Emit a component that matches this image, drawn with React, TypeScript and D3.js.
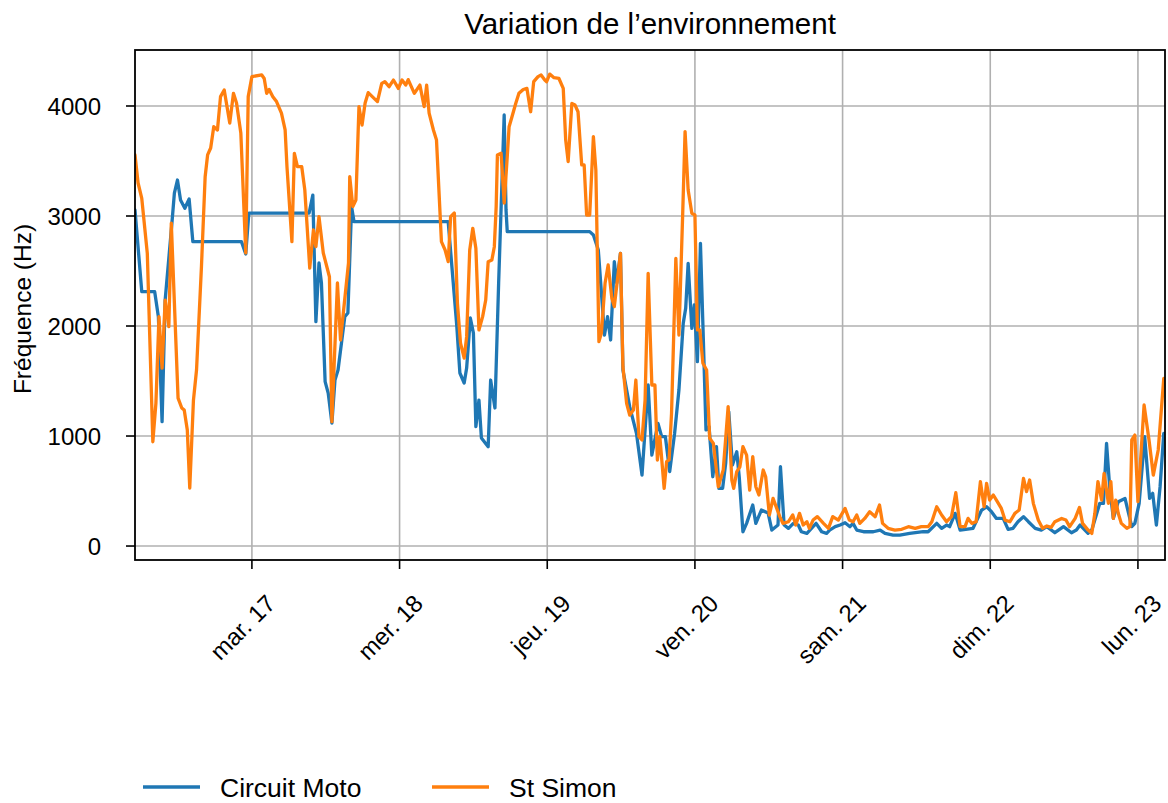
import { useEffect, useRef } from "react";
import * as d3 from "d3";

// heures depuis le lundi 16 mars 00:00
const motoHeures = [
  5.0, 6.1, 8.2, 8.8, 9.4, 9.9, 11.0, 11.4, 11.9, 12.4,
  13.1, 13.8, 14.4, 22.3, 23.0, 23.5, 33.3, 33.9, 34.4, 34.9,
  35.3, 35.9, 36.4, 37.0, 37.5, 38.0, 39.1, 39.6, 40.2, 40.6,
  55.9, 57.3, 57.8, 58.5, 58.9, 59.5, 60.0, 60.4, 60.9, 61.3,
  62.4, 62.8, 63.5, 64.1, 65.0, 65.3, 65.5, 78.9, 79.5, 80.3,
  81.3, 81.8, 82.3, 82.9, 83.3, 83.9, 84.3, 85.4, 86.5, 87.4,
  88.4, 89.0, 90.0, 90.6, 91.2, 91.9, 92.7, 93.4, 94.1, 94.5,
  94.9, 95.5, 95.9, 96.4, 96.9, 97.3, 97.8, 98.3, 98.9, 99.5,
  99.9, 100.5, 101.0, 101.5, 102.1, 102.8, 103.2, 103.8, 104.4, 105.4,
  105.9, 106.8, 107.9, 108.5, 109.5, 109.9, 110.5, 111.2, 112.0, 112.8,
  113.3, 114.2, 115.2, 115.7, 116.6, 117.4, 117.9, 118.8, 119.6, 120.4,
  121.2, 121.7, 122.3, 123.4, 125.0, 126.1, 126.9, 128.2, 129.3, 130.9,
  133.1, 133.9, 135.3, 136.1, 136.9, 137.4, 138.3, 139.1, 141.2, 142.6,
  143.4, 144.2, 145.0, 146.1, 146.9, 147.7, 148.5, 149.4, 150.2, 151.3,
  152.3, 153.2, 154.5, 155.9, 157.2, 158.0, 158.6, 159.9, 160.5, 161.8,
  162.4, 162.9, 163.4, 164.0, 164.8, 165.9, 167.0, 167.5, 168.2, 169.1,
  169.9, 170.4, 171.0, 171.6, 172.2,
];
const motoFreq = [
  3055, 2312, 2312, 2085, 1130, 2236, 2936, 3209, 3327, 3145,
  3070, 3154, 2767, 2767, 2655, 3027, 3027, 3190, 2039, 2573,
  2391, 1494, 1390, 1118, 1509, 1600, 2085, 2118, 3085, 2948,
  2948, 2000, 1573, 1482, 1618, 2073, 1936, 1085, 1327, 982,
  903, 1509, 1255, 2391, 3918, 3055, 2858, 2858, 2827, 2691,
  1918, 2085, 1873, 2585, 2391, 2661, 1600, 1267, 1024, 645,
  1464, 827, 1115, 994, 994, 676, 1024, 1418, 2024, 2161,
  2570, 1979, 2191, 1676, 2752, 2009, 1055, 1085, 630, 903,
  524, 524, 751, 1221, 736, 857, 630, 130, 206, 373,
  206, 327, 300, 145, 191, 721, 191, 161, 206, 191,
  130, 115, 176, 206, 130, 115, 145, 176, 191, 212,
  176, 206, 145, 130, 130, 145, 115, 100, 100, 115,
  130, 130, 206, 161, 191, 176, 297, 145, 161, 327,
  357, 312, 251, 251, 152, 161, 221, 267, 221, 161,
  145, 176, 121, 176, 121, 145, 191, 115, 145, 388,
  388, 933, 539, 251, 403, 433, 176, 206, 388, 994,
  433, 479, 191, 539, 1024,
];

const simonHeures = [
  5.0, 5.5, 6.1, 7.0, 7.9, 8.4, 8.9, 9.4, 9.9, 10.5,
  10.9, 12.0, 12.6, 13.0, 13.5, 13.9, 14.5, 15.0, 15.8, 16.4,
  16.8, 17.3, 17.8, 18.4, 18.9, 19.5, 20.4, 21.0, 21.5, 22.2,
  23.0, 23.4, 24.0, 25.6, 26.0, 26.4, 26.8, 27.4, 28.0, 28.8,
  29.4, 29.7, 30.5, 30.9, 31.4, 32.1, 32.6, 33.4, 34.0, 34.4,
  34.9, 35.6, 36.6, 37.0, 37.9, 38.4, 39.7, 39.9, 40.4, 40.9,
  41.4, 41.9, 42.4, 42.9, 44.4, 45.1, 45.6, 46.3, 47.0, 47.8,
  48.4, 49.0, 49.4, 50.4, 51.3, 52.0, 52.4, 52.8, 53.5, 54.0,
  54.8, 55.4, 55.9, 56.3, 56.9, 57.4, 57.9, 58.5, 58.9, 59.4,
  59.9, 60.4, 60.9, 61.5, 62.0, 62.4, 63.0, 63.4, 63.7, 63.9,
  64.5, 65.0, 65.5, 65.8, 66.2, 66.9, 67.4, 68.1, 68.7, 69.3,
  69.8, 70.5, 71.0, 71.6, 71.9, 72.4, 73.1, 73.9, 74.6, 75.0,
  75.4, 76.0, 76.5, 77.0, 77.6, 78.0, 78.4, 78.9, 79.5, 79.9,
  80.4, 80.8, 81.4, 81.9, 82.5, 82.9, 83.4, 83.9, 84.3, 84.9,
  85.4, 86.0, 86.4, 86.9, 87.4, 87.9, 88.4, 89.0, 89.5, 89.9,
  90.3, 91.0, 91.4, 91.8, 92.2, 92.9, 93.4, 94.0, 94.4, 94.9,
  95.5, 96.0, 96.4, 96.8, 97.3, 97.9, 98.4, 99.0, 99.8, 100.6,
  101.4, 102.0, 102.3, 102.8, 103.3, 103.8, 104.4, 104.9, 105.4, 105.9,
  106.4, 107.1, 107.5, 108.1, 108.7, 109.3, 109.8, 110.3, 111.2, 111.9,
  112.4, 113.0, 113.6, 114.2, 114.6, 115.2, 115.9, 116.9, 117.7, 118.4,
  119.3, 120.4, 121.1, 121.7, 122.3, 122.8, 123.6, 124.4, 125.3, 126.0,
  126.5, 127.4, 128.5, 129.6, 130.7, 131.8, 132.8, 133.9, 134.5, 135.3,
  136.1, 136.9, 137.7, 138.4, 139.1, 139.9, 140.4, 141.0, 141.7, 142.4,
  143.0, 143.4, 143.9, 144.5, 145.0, 145.8, 146.4, 147.2, 148.0, 148.7,
  149.4, 149.9, 150.4, 151.0, 151.8, 152.5, 153.2, 153.9, 154.5, 155.6,
  156.3, 156.9, 157.8, 158.5, 159.0, 159.9, 160.5, 161.0, 161.5, 162.1,
  162.5, 163.2, 163.6, 164.0, 164.4, 164.8, 165.3, 166.2, 166.7, 167.0,
  167.5, 168.0, 169.0, 169.8, 170.5, 171.3, 172.2,
];
const simonFreq = [
  3555, 3300, 3160, 2660, 948, 1300, 2085, 1618, 2236, 1994,
  2936, 1345, 1255, 1236, 1055, 527, 1327, 1600, 2540, 3357,
  3555, 3618, 3812, 3782, 4085, 4145, 3845, 4115, 4027, 3755,
  2664, 4085, 4267, 4282, 4250, 4115, 4150, 4085, 4040, 3936,
  3782, 3448, 2767, 3570, 3448, 3448, 3236, 2527, 2873, 2721,
  2994, 2664, 2448, 1130, 2391, 1873, 2573, 3357, 3085, 3145,
  3994, 3827, 4027, 4121, 4040, 4206, 4221, 4176, 4236, 4160,
  4236, 4190, 4240, 4115, 4190, 3994, 4190, 3936, 3782, 3690,
  2767, 2691, 2585, 2994, 3027, 2209, 1845, 1709, 1903, 2691,
  2888, 2706, 1964, 2085, 2236, 2585, 2600, 2721, 3085, 3555,
  3570, 3118, 3539, 3812, 3888, 4027, 4115, 4150, 4160, 3948,
  4221, 4267, 4282, 4236, 4221, 4290, 4257, 4250, 4160, 3690,
  3494, 4024, 4010, 3948, 3464, 3464, 3009, 3009, 3721, 3418,
  1858, 1936, 2391, 2555, 2252, 2176, 2418, 2661, 1630, 1297,
  1190, 1236, 1509, 994, 964, 1327, 2479, 1464, 1464, 782,
  994, 524, 767, 782, 1206, 2615, 1918, 2994, 3767, 3236,
  3024, 3009, 1964, 1964, 1661, 1600, 979, 933, 539, 691,
  1267, 600, 524, 676, 718, 903, 827, 509, 812, 539,
  464, 691, 630, 282, 433, 342, 267, 206, 221, 282,
  191, 297, 191, 221, 161, 236, 267, 206, 161, 267,
  236, 342, 236, 221, 282, 206, 251, 312, 267, 373,
  206, 161, 145, 152, 176, 161, 176, 176, 221, 357,
  282, 221, 267, 485, 176, 176, 251, 206, 221, 585,
  357, 570, 418, 464, 418, 342, 236, 221, 297, 327,
  615, 494, 600, 388, 236, 161, 182, 170, 221, 251,
  236, 176, 251, 351, 206, 145, 115, 297, 585, 418,
  661, 388, 585, 251, 418, 297, 206, 161, 176, 964,
  1009, 403, 1282, 964, 645, 873, 1524,
];

const joursLabels = ["mar. 17", "mer. 18", "jeu. 19", "ven. 20", "sam. 21", "dim. 22", "lun. 23"];
const freqTicks = [0, 1000, 2000, 3000, 4000];
const seriesNoms = ["Circuit Moto", "St Simon"];
const seriesCouleurs = ["#1f77b4", "#ff7f0e"];

const debut = new Date(2020, 2, 16, 0, 0);
const toDate = (h: number) => new Date(debut.getTime() + h * 3600 * 1000);

export default function App() {
  const ref = useRef<SVGSVGElement>(null);

  useEffect(() => {
    const width = 1168;
    const height = 803;
    const m = { left: 135, right: 1165, top: 50, bottom: 560 };
    const font = "'Liberation Sans', Arial, sans-serif";

    const x = d3
      .scaleTime()
      .domain([toDate(5.0), toDate(172.4)])
      .range([m.left, m.right]);
    const y = d3.scaleLinear().domain([-127, 4509]).range([m.bottom, m.top]);

    const svg = d3.select(ref.current);
    svg.selectAll("*").remove();
    svg.attr("width", width).attr("height", height);

    const jours = joursLabels.map((_, i) => toDate(24 * (i + 1)));

    // grille
    const grid = svg.append("g").attr("stroke", "#b0b0b0").attr("stroke-width", 1.6);
    grid
      .selectAll("line.v")
      .data(jours)
      .join("line")
      .attr("x1", (d) => x(d))
      .attr("x2", (d) => x(d))
      .attr("y1", m.top)
      .attr("y2", m.bottom);
    grid
      .selectAll("line.h")
      .data(freqTicks)
      .join("line")
      .attr("x1", m.left)
      .attr("x2", m.right)
      .attr("y1", (d) => y(d))
      .attr("y2", (d) => y(d));

    // courbes
    const series = [
      motoHeures.map((h, i) => [toDate(h), motoFreq[i]] as [Date, number]),
      simonHeures.map((h, i) => [toDate(h), simonFreq[i]] as [Date, number]),
    ];
    const line = d3
      .line<[Date, number]>()
      .x((d) => x(d[0]))
      .y((d) => y(d[1]));

    svg
      .append("defs")
      .append("clipPath")
      .attr("id", "clip")
      .append("rect")
      .attr("x", m.left)
      .attr("y", m.top)
      .attr("width", m.right - m.left)
      .attr("height", m.bottom - m.top);

    svg
      .append("g")
      .attr("clip-path", "url(#clip)")
      .selectAll("path")
      .data(series)
      .join("path")
      .attr("d", (d) => line(d))
      .attr("fill", "none")
      .attr("stroke", (_, i) => seriesCouleurs[i])
      .attr("stroke-width", 3.3)
      .attr("stroke-linejoin", "round")
      .attr("stroke-linecap", "round");

    // cadre
    svg
      .append("rect")
      .attr("x", m.left)
      .attr("y", m.top)
      .attr("width", m.right - m.left)
      .attr("height", m.bottom - m.top)
      .attr("fill", "none")
      .attr("stroke", "black")
      .attr("stroke-width", 1.8);

    // axe x
    const xa = svg.append("g");
    xa.selectAll("line")
      .data(jours)
      .join("line")
      .attr("x1", (d) => x(d))
      .attr("x2", (d) => x(d))
      .attr("y1", m.bottom)
      .attr("y2", m.bottom + 9)
      .attr("stroke", "black")
      .attr("stroke-width", 1.6);
    xa.selectAll("text")
      .data(jours)
      .join("text")
      .attr("transform", (d) => `translate(${x(d) + 19},${m.bottom + 39}) rotate(-45)`)
      .attr("text-anchor", "end")
      .attr("dy", "0.35em")
      .style("font", `24px ${font}`)
      .text((_, i) => joursLabels[i]);

    // axe y
    const ya = svg.append("g");
    ya.selectAll("line")
      .data(freqTicks)
      .join("line")
      .attr("x1", m.left - 9)
      .attr("x2", m.left)
      .attr("y1", (d) => y(d))
      .attr("y2", (d) => y(d))
      .attr("stroke", "black")
      .attr("stroke-width", 1.6);
    ya.selectAll("text")
      .data(freqTicks)
      .join("text")
      .attr("x", 101)
      .attr("y", (d) => y(d))
      .attr("dy", "0.36em")
      .attr("text-anchor", "end")
      .style("font", `24px ${font}`)
      .text((d) => d);

    svg
      .append("text")
      .attr("transform", `translate(31,${(m.top + m.bottom) / 2 + 4}) rotate(-90)`)
      .attr("text-anchor", "middle")
      .style("font", `24.5px ${font}`)
      .text("Fréquence (Hz)");

    // titre
    svg
      .append("text")
      .attr("x", (m.left + m.right) / 2)
      .attr("y", 34)
      .attr("text-anchor", "middle")
      .style("font", `29.5px ${font}`)
      .text("Variation de l’environnement");

    // légende
    const legX = [143, 432];
    const leg = svg
      .append("g")
      .selectAll("g")
      .data(seriesNoms)
      .join("g")
      .attr("transform", (_, i) => `translate(${legX[i]},787)`);
    leg
      .append("line")
      .attr("x1", 0)
      .attr("x2", 57)
      .attr("stroke", (_, i) => seriesCouleurs[i])
      .attr("stroke-width", 3.3);
    leg
      .append("text")
      .attr("x", 77)
      .attr("dy", "0.36em")
      .style("font", `26.5px ${font}`)
      .text((d) => d);
  }, []);

  return <svg ref={ref} style={{ position: "absolute", left: 0, top: 0, background: "white" }} />;
}
